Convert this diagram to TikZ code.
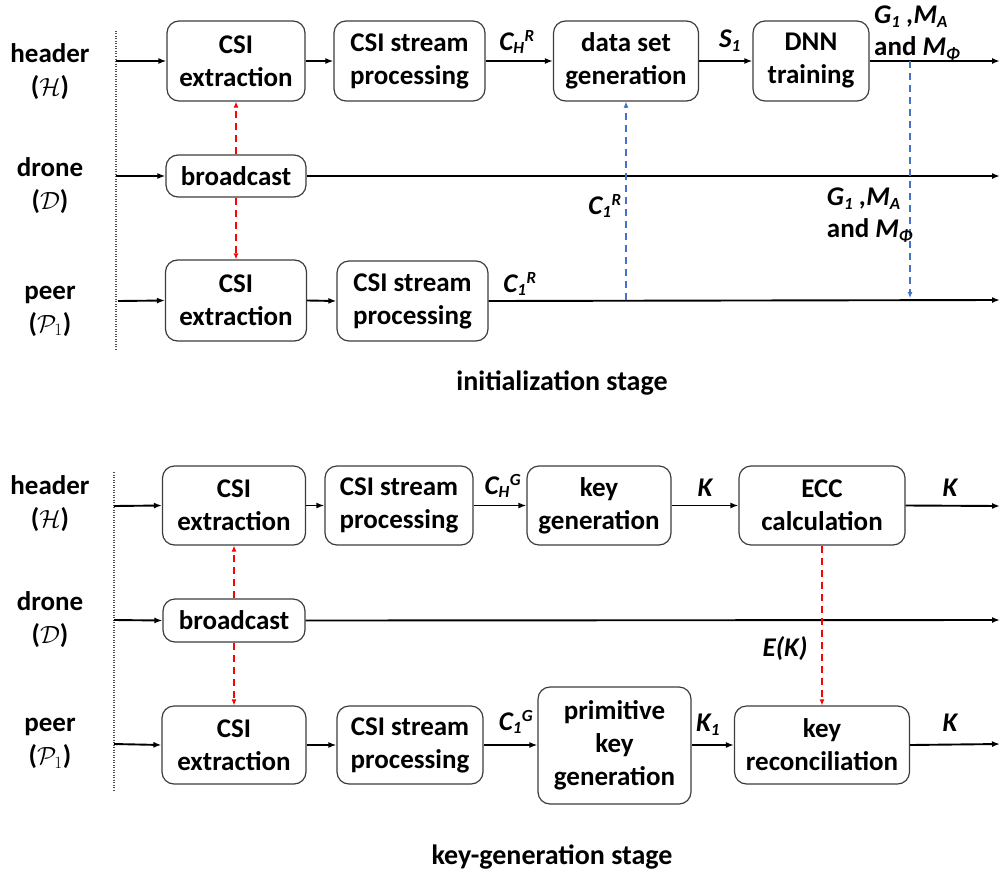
\documentclass[tikz,border=0pt]{standalone}
\usepackage{fontspec}
\setmainfont{Carlito}
\usetikzlibrary{arrows.meta}

% small-size letters for indices inside the italic labels
\newcommand\subsz{\fontsize{17}{17}\selectfont}
\newcommand\ssub[2]{$\mbox{#1}_{\mbox{\subsz #2}}$}
\newcommand\ssubsup[3]{$\mbox{#1}_{\mbox{\subsz #2}}{}^{\mbox{\subsz #3}}$}

\definecolor{linkblue}{RGB}{68,114,196}
\definecolor{boxline}{RGB}{60,60,60}

\begin{document}
\begin{tikzpicture}[x=1pt,y=-1pt,
  blk/.style={draw=boxline, line width=1.2pt, rounded corners=12pt, align=center,
    font=\fontsize{27}{33}\selectfont\bfseries, inner sep=0pt},
  flow/.style={line width=1.9pt, -{Latex[length=8pt,width=6pt]}},
  redlink/.style={red, line width=1.3pt, dash pattern=on 7pt off 5pt, -{Latex[length=6pt,width=5pt]}},
  bluelink/.style={linkblue, line width=1.3pt, dash pattern=on 7pt off 5pt, -{Latex[length=6pt,width=5pt]}},
  lane/.style={black!70, line width=1.4pt, dash pattern=on 1pt off 1.5pt},
  role/.style={align=center, font=\fontsize{27}{33}\selectfont\bfseries, inner sep=0pt},
  tag/.style={align=left, font=\fontsize{27}{32}\selectfont\bfseries\itshape, inner sep=0pt},
  stage/.style={font=\fontsize{28}{32}\selectfont\bfseries, inner sep=0pt}
]
\useasboundingbox (0,0) rectangle (1000,875);

% ---------------- initialization stage ----------------
\coordinate (lt1) at (116,31);
\coordinate (lb1) at (116,350);
\draw[lane] (lt1) -- (lb1);

\node[role] (hdr1) at (50,71.5) {header\\($\mathcal{H}$)};
\node[role] (drn1) at (50,186) {drone\\($\mathcal{D}$)};
\node[role] (per1) at (50,311) {peer\\($\mathcal{P}_1$)};

\node[blk, minimum width=138, minimum height=80] (hx1) at (236,61) {CSI\\extraction};
\node[blk, minimum width=151, minimum height=80] (hs1) at (409.5,61) {CSI stream\\processing};
\node[blk, minimum width=145, minimum height=80] (ds) at (626,61) {data set\\generation};
\node[blk, minimum width=116, minimum height=80] (dnn) at (811,61) {DNN\\training};
\node[blk, minimum width=140, minimum height=42] (bc1) at (236,176) {broadcast};
\node[blk, minimum width=141, minimum height=81] (px1) at (236,300.5) {CSI\\extraction};
\node[blk, minimum width=151, minimum height=80] (ps1) at (412.5,301) {CSI stream\\processing};

\coordinate (h1in) at (116,61);
\coordinate (d1in) at (116,176);
\coordinate (p1in) at (118,301);
\coordinate (h1out) at (1000,61);
\coordinate (d1out) at (1000,176);
\coordinate (p1out) at (1000,300);
\coordinate (c1tap) at (626,300);
\coordinate (gtap) at (910,61);
\coordinate (gdrop) at (910,298);

\draw[flow] (h1in) -- (hx1.west);
\draw[flow] (hx1.east) -- (hs1.west);
\draw[flow] (hs1.east) -- (ds.west);
\draw[flow] (ds.east) -- (dnn.west);
\draw[flow] (dnn.east) -- (h1out);
\draw[flow] (d1in) -- (bc1.west);
\draw[flow] (bc1.east) -- (d1out);
\draw[flow] (p1in) -- (px1.west);
\draw[flow] (px1.east) -- (ps1.west);
\draw[flow] (ps1.east) -- (p1out);

\draw[redlink] (bc1.north) -- (hx1.south);
\draw[redlink] (bc1.south) -- (bc1.south |- px1.north);
\draw[bluelink] (c1tap) -- (ds.south);
\draw[bluelink] (gtap) -- (gdrop);

\node[tag] (chr) at (517,42) {\ssubsup{C}{H}{R}};
\node[tag] (s1) at (730,41) {\ssub{S}{1}};
\node[tag, anchor=west] (gma1) at (874,33) {\ssub{G}{1} ,\ssub{M}{A}\\{\upshape and} \ssub{M}{Φ}};
\node[tag] (c1rmid) at (605,206) {\ssubsup{C}{1}{R}};
\node[tag] (gma2) at (870,215) {\ssub{G}{1} ,\ssub{M}{A}\\{\upshape and} \ssub{M}{Φ}};
\node[tag] (c1rp) at (520,284) {\ssubsup{C}{1}{R}};

\node[stage] (st1) at (562,383) {initialization stage};

% ---------------- key-generation stage ----------------
\coordinate (lt2) at (114,472);
\coordinate (lb2) at (114,790);
\draw[lane] (lt2) -- (lb2);

\node[role] (hdr2) at (50,503.5) {header\\($\mathcal{H}$)};
\node[role] (drn2) at (50,620) {drone\\($\mathcal{D}$)};
\node[role] (per2) at (50,743.5) {peer\\($\mathcal{P}_1$)};

\node[blk, minimum width=143, minimum height=79] (hx2) at (234,505.5) {CSI\\extraction};
\node[blk, minimum width=148, minimum height=79] (hs2) at (399,505.5) {CSI stream\\processing};
\node[blk, minimum width=144, minimum height=79] (kg) at (599,505.5) {key\\generation};
\node[blk, minimum width=166, minimum height=79] (ecc) at (822,505.5) {ECC\\calculation};
\node[blk, minimum width=142, minimum height=43] (bc2) at (234,620.5) {broadcast};
\node[blk, minimum width=144, minimum height=78] (px2) at (234,745) {CSI\\extraction};
\node[blk, minimum width=146, minimum height=78] (ps2) at (410,745) {CSI stream\\processing};
\node[blk, minimum width=153, minimum height=117] (pkg) at (614.5,745.5) {primitive\\key\\generation};
\node[blk, minimum width=175, minimum height=78] (kr) at (822,745) {key\\reconciliation};

\coordinate (h2in) at (114,506);
\coordinate (d2in) at (114,620);
\coordinate (p2in) at (114,744);
\coordinate (h2out) at (1000,506);
\coordinate (d2out) at (1000,620);
\coordinate (p2out) at (1000,744);

\draw[flow] (h2in) -- (hx2.west);
\draw[flow] (hx2.east) -- (hs2.west);
\draw[flow] (hs2.east) -- (kg.west);
\draw[flow] (kg.east) -- (ecc.west);
\draw[flow] (ecc.east) -- (h2out);
\draw[flow] (d2in) -- (bc2.west);
\draw[flow] (bc2.east) -- (d2out);
\draw[flow] (p2in) -- (px2.west);
\draw[flow] (px2.east) -- (ps2.west);
\draw[flow] (ps2.east) -- (pkg.west |- ps2.east);
\draw[flow] (pkg.east |- kr.west) -- (kr.west);
\draw[flow] (kr.east) -- (p2out);

\draw[redlink] (bc2.north) -- (hx2.south);
\draw[redlink] (bc2.south) -- (px2.north);
\draw[redlink] (ecc.south) -- (kr.north);

\node[tag] (chg) at (503,486) {\ssubsup{C}{H}{G}};
\node[tag] (k1) at (705,488) {K};
\node[tag] (k2) at (950,488) {K};
\node[tag] (ek) at (785,649) {E(K)};
\node[tag] (c1g) at (516,722) {\ssubsup{C}{1}{G}};
\node[tag] (kone) at (708,725) {\ssub{K}{1}};
\node[tag] (k3) at (950,723) {K};

\node[stage] (st2) at (552,857) {key-generation stage};
\end{tikzpicture}
\end{document}
